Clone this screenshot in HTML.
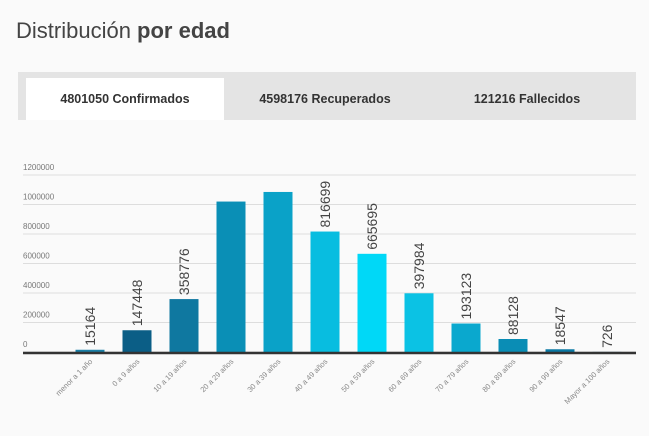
<!DOCTYPE html>
<html><head><meta charset="utf-8"><style>
body{margin:0;width:649px;height:436px;background:#fafafa;font-family:"Liberation Sans",sans-serif;overflow:hidden;position:relative}
.title{position:absolute;left:16px;top:18px;font-size:22px;color:#444}
.tabs{position:absolute;left:18px;top:72px;width:618px;height:48px;background:#e4e4e4}
.tab{position:absolute;top:6px;height:42px;line-height:42px;font-size:12.5px;font-weight:bold;color:#333;text-align:center;width:198px}
.active{background:#fff}
svg{position:absolute;left:0;top:0}
</style></head><body>
<div class="title">Distribución <b>por edad</b></div>
<div class="tabs">
<div class="tab active" style="left:8px">4801050 Confirmados</div>
<div class="tab" style="left:208px">4598176 Recuperados</div>
<div class="tab" style="left:410px">121216 Fallecidos</div>
</div>
<svg id="chart" width="649" height="436"></svg>
<script>
const categories=["menor a 1 año","0 a 9 años","10 a 19 años","20 a 29 años","30 a 39 años","40 a 49 años","50 a 59 años","60 a 69 años","70 a 79 años","80 a 89 años","90 a 99 años","Mayor a 100 años"];
const values=[15164,147448,358776,1020000,1085000,816699,665695,397984,193123,88128,18547,726];
const valueLabels=["15164","147448","358776","","","816699","665695","397984","193123","88128","18547","726"];
const ticks=[0,200000,400000,600000,800000,1000000,1200000];
const colors=["#1a7fa6","#0b5e86","#0f78a0","#0a8fb6","#0aa2c8","#08bde0","#00d8f7","#0bc2e4","#0aa8ce","#0a8db5","#0a79a4","#0a6f99"];
const svg=document.getElementById('chart');const NS="http://www.w3.org/2000/svg";
const y=v=>352-v*(177/1200000);
const x=i=>90+i*47;
function mk(t,a){const e=document.createElementNS(NS,t);for(const k in a)e.setAttribute(k,a[k]);svg.appendChild(e);return e;}
ticks.forEach(t=>{
 const l=mk('line',{x1:23,x2:636,y1:y(t),y2:y(t),stroke:'#ddd','stroke-width':1});
 
 
 const tx=mk('text',{x:23,y:y(t)-5,'font-size':8,fill:'#777'});tx.textContent=t;
 
 
});
values.forEach((v,i)=>{
 const r=mk('rect',{x:x(i)-14.5,y:y(v),width:29,height:352-y(v),fill:colors[i]});
 
 
 if(valueLabels[i]){const t=mk('text',{transform:`translate(${x(i)+5},${y(v)-4}) rotate(-90)`,'font-size':14,fill:'#444'});t.textContent=valueLabels[i];
 
 }
 const c=mk('text',{transform:`translate(${x(i)+3},${362}) rotate(-45)`,'font-size':7.5,fill:'#888','text-anchor':'end'});c.textContent=categories[i];
 
 
});
const ax=mk('line',{x1:23,x2:636,y1:353,y2:353,stroke:'#333','stroke-width':2.5});


</script>
</body></html>
